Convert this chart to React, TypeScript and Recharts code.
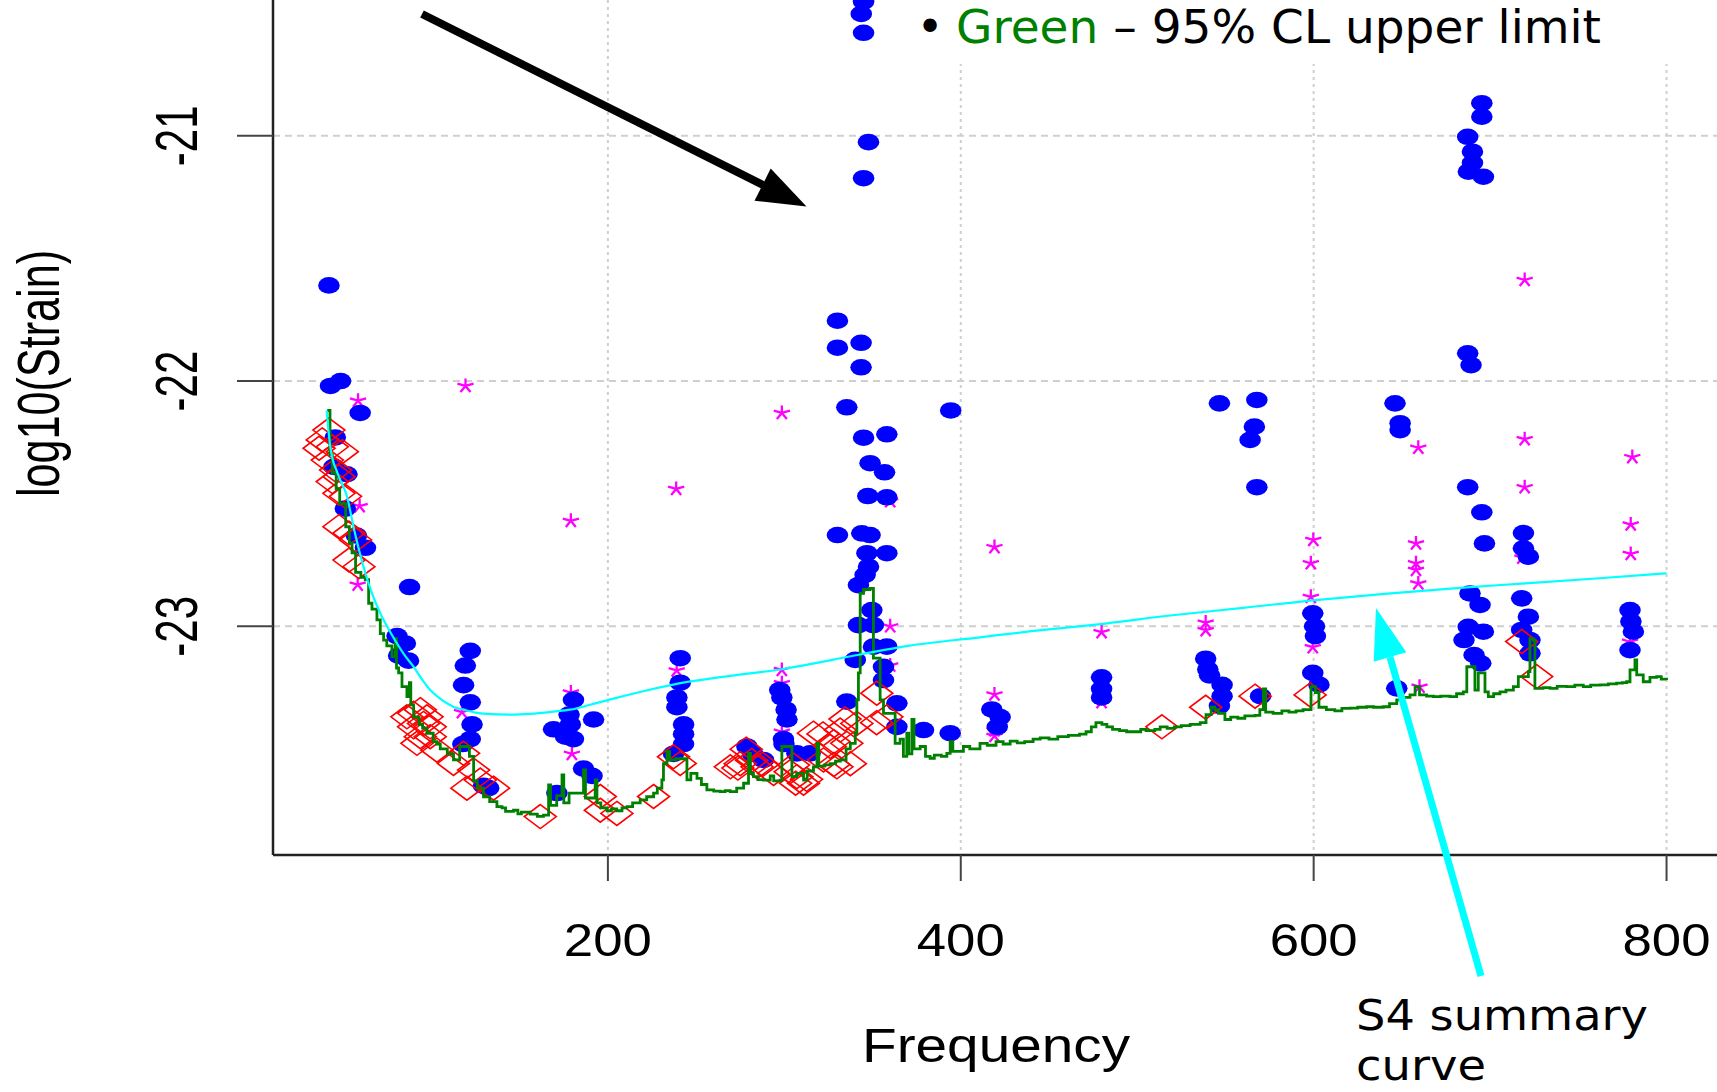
import React from 'react';
import { ComposedChart, Scatter, Line, XAxis, YAxis, CartesianGrid } from 'recharts';

const W = 1717;
const H = 1092;

const xTicks = [200, 400, 600, 800];
const yTicks = [-23, -22, -21];
const X_MIN = 10.2;
const X_MAX = 828.6;
const Y_MIN = -23.9325;
const Y_MAX = -20.4463;

// [frequency, log10(strain)]
const outlierPts: [number, number][] = [
  [41.9, -21.61], [42.8, -22.02], [48.5, -22.0], [59.6, -22.13], [45.5, -22.23], [44.8, -22.35],
  [52.1, -22.38], [51.2, -22.52], [57.5, -22.63], [62.6, -22.68],
  [87.6, -22.84], [80.5, -23.04], [85.2, -23.07], [81.4, -23.12], [87, -23.14],
  [122, -23.1], [119.2, -23.16], [118.2, -23.24], [122, -23.31], [123, -23.4], [122, -23.46],
  [117.8, -23.48], [129.5, -23.65], [132.4, -23.66],
  [180.5, -23.3], [178, -23.36], [169.2, -23.42], [178.7, -23.4], [191.9, -23.38], [180.5, -23.46],
  [176, -23.45], [171.1, -23.68], [186.2, -23.58], [191, -23.61],
  [241, -23.13], [241, -23.23], [239.1, -23.29], [239.1, -23.33], [242.9, -23.4], [242.9, -23.44],
  [242.9, -23.48], [237.2, -23.52],
  [278.8, -23.49], [282, -23.52], [288.2, -23.545], [297.4, -23.26], [298.6, -23.29], [301, -23.34],
  [301.5, -23.38], [299.5, -23.46], [299.8, -23.48], [307.1, -23.518], [314.6, -23.518],
  [344.9, -20.453], [343.6, -20.503], [344.9, -20.58], [347.7, -21.026], [344.9, -21.173],
  [330.1, -21.754], [330.1, -21.864], [343.5, -21.844], [343.5, -21.944], [335.4, -22.107],
  [344.9, -22.231], [358.1, -22.217], [348.6, -22.335], [356.8, -22.372], [347.3, -22.469],
  [358.1, -22.474], [330.1, -22.628], [343.9, -22.621], [348.6, -22.628], [358.1, -22.702],
  [346.8, -22.702], [347.7, -22.757], [345.8, -22.79], [342, -22.832], [349.6, -22.934],
  [342, -22.995], [350.5, -22.995], [358.1, -23.083], [350.5, -23.083], [340.2, -23.137],
  [356.2, -23.165], [356.2, -23.219], [335.4, -23.307], [363.8, -23.314], [363.8, -23.41],
  [378.9, -23.423], [394, -23.436], [394.3, -22.12],
  [417.6, -23.339], [422.3, -23.37], [420.7, -23.41],
  [479.8, -23.208], [479.8, -23.255], [479.8, -23.29],
  [538.8, -23.132], [540, -23.176], [541, -23.2], [548.1, -23.239], [548.1, -23.285], [546.6, -23.324],
  [569.9, -23.285], [546.6, -22.091], [567.8, -22.077], [566.4, -22.186], [564, -22.24], [567.8, -22.433],
  [599.5, -22.947], [600.5, -23.0], [601, -23.04], [599.5, -23.19], [603, -23.238],
  [646.1, -22.091], [649, -22.172], [649, -22.2], [647.1, -23.253],
  [695.3, -20.867], [695.3, -20.922], [687.3, -21.004], [690, -21.065], [690, -21.11], [687.7, -21.146],
  [696.2, -21.167], [687.3, -21.887], [689.2, -21.935], [687.3, -22.433], [695.3, -22.535],
  [696.8, -22.662], [688.6, -22.866], [694.3, -22.913], [687.6, -23.002], [696.2, -23.022],
  [685.2, -23.056], [690.9, -23.117], [694.7, -23.151],
  [718.9, -22.62], [718.9, -22.682], [721.7, -22.716], [717.9, -22.886], [721.7, -22.961],
  [717.9, -23.015], [722.6, -23.056], [722.6, -23.11],
  [779.3, -22.934], [779.8, -22.98], [781.2, -23.022], [779.3, -23.097],
];

const starPts: [number, number][] = [
  [58.4, -22.08], [119.3, -22.02], [59.3, -22.51], [58.2, -22.83], [179, -22.57], [238.7, -22.44],
  [117.3, -23.35], [179, -23.27], [179.6, -23.52], [239, -23.18], [298.6, -22.13], [298.6, -23.178],
  [298.6, -23.232], [298.6, -23.43], [360, -22.49], [360, -23.0], [360, -23.16], [419.1, -22.677],
  [419.1, -23.278], [419.1, -23.424], [419.1, -23.447], [479.8, -23.024], [479.8, -23.309],
  [538.8, -22.985], [538.8, -23.016], [599.8, -22.648], [598.4, -22.743], [598.4, -22.88],
  [599.5, -23.085], [659.3, -22.272], [658, -22.662], [658, -22.743], [658, -22.77], [659.3, -22.825],
  [660, -23.246], [719.6, -21.588], [719.6, -22.237], [719.6, -22.433], [718.3, -22.72],
  [780.6, -22.31], [779.7, -22.585], [779.7, -22.705], [779.3, -23.063],
];

const diamondPts: [number, number][] = [
  [41.9, -22.2], [38.1, -22.24], [36.3, -22.274], [43.8, -22.268], [49.5, -22.288], [41, -22.322],
  [45.7, -22.363], [47.6, -22.39], [43.8, -22.41], [47.6, -22.458], [51.3, -22.47], [47.6, -22.594],
  [53.3, -22.62], [57, -22.648], [53.3, -22.73], [58.9, -22.757],
  [86.1, -23.369], [89.9, -23.355], [93.7, -23.34], [97.5, -23.369], [89.9, -23.41], [95.5, -23.396],
  [99.3, -23.41], [93.7, -23.45], [99.3, -23.45], [91.8, -23.477], [103.1, -23.505], [112.5, -23.559],
  [118.2, -23.518], [123.9, -23.586], [127.7, -23.627], [135.2, -23.66], [120.1, -23.66],
  [161.7, -23.776], [195.7, -23.694], [205.1, -23.763], [195.7, -23.75], [225.9, -23.694],
  [237.2, -23.532], [241, -23.559],
  [269.4, -23.573], [273.7, -23.578], [275, -23.56], [278.4, -23.501], [281.5, -23.547], [284.5, -23.573],
  [287.7, -23.563], [293.9, -23.6], [303.3, -23.593], [305.2, -23.566], [307.1, -23.613], [306.4, -23.64],
  [310.9, -23.64], [312.6, -23.624], [316.5, -23.436], [321.9, -23.439], [322.2, -23.545], [326, -23.49],
  [328.1, -23.47], [328.1, -23.563], [329.8, -23.573], [331.7, -23.423], [334.4, -23.378], [335.4, -23.477],
  [337.4, -23.56], [341.1, -23.396], [352.4, -23.273], [358.1, -23.369], [352.3, -23.393],
  [514, -23.41], [538.8, -23.33], [566.8, -23.285], [598, -23.28], [717.9, -23.062], [726.4, -23.205],
];

// green: 95% CL upper limit
const upperLimit: [number, number][] = [
  [40.9, -22.12], [42.5, -22.3], [43.8, -22.375], [46, -22.44], [48, -22.5], [51.4, -22.594], [53.5, -22.66],
  [55, -22.7], [57, -22.78], [60, -22.8], [62.5, -22.81], [64.4, -22.906], [66.3, -22.93], [69.1, -22.974],
  [71, -23.03], [72.9, -23.056], [74.7, -23.08], [77.6, -23.124], [79.5, -23.05], [80.2, -23.17],
  [81.4, -23.19], [83.3, -23.246], [86.1, -23.287], [87.5, -23.23], [88.3, -23.32], [89.9, -23.37],
  [93, -23.4], [95, -23.415], [97.4, -23.436], [101, -23.47], [103, -23.48], [105, -23.5], [109, -23.52],
  [112.5, -23.545], [116, -23.49], [121.5, -23.53], [123.9, -23.63], [126, -23.66], [129.5, -23.695],
  [133, -23.715], [137.1, -23.735], [140, -23.74], [142, -23.755], [146.5, -23.75], [149, -23.765],
  [151, -23.758], [156, -23.766], [160, -23.775], [163.5, -23.77], [166.4, -23.647], [167.5, -23.73],
  [171, -23.69], [174, -23.606], [175, -23.72], [178, -23.68], [183, -23.68], [186.2, -23.586],
  [187.3, -23.7], [192.8, -23.626], [193.8, -23.72], [196, -23.74], [199.5, -23.752], [202, -23.745],
  [205, -23.752], [208, -23.74], [210.8, -23.735], [214, -23.72], [218.3, -23.708], [222, -23.695],
  [225.9, -23.68], [228, -23.66], [230.6, -23.626], [231.5, -23.56], [233.5, -23.51], [235, -23.545],
  [238.5, -23.54], [242.9, -23.54], [244.8, -23.626], [247, -23.6], [250.5, -23.62], [253, -23.645],
  [256.1, -23.667], [260, -23.672], [263.7, -23.674], [266.5, -23.67], [269.3, -23.674], [273, -23.66],
  [276.9, -23.64], [279.7, -23.518], [280.8, -23.6], [282.5, -23.613], [285, -23.625], [288.2, -23.627],
  [292, -23.61], [294, -23.63], [297.6, -23.627], [298.6, -23.49], [303.3, -23.49], [304.3, -23.613],
  [307, -23.6], [310.9, -23.627], [313, -23.59], [316.5, -23.573], [318.5, -23.477], [319.5, -23.57],
  [323, -23.565], [326, -23.56], [329, -23.55], [331.7, -23.545], [335, -23.5], [337.4, -23.477],
  [340.2, -23.436], [341.1, -23.3], [342, -23.19], [343, -22.866], [344.9, -22.85], [348.6, -22.845],
  [350.5, -23.13], [354.3, -23.3], [356.2, -23.355], [362.8, -23.477], [365.6, -23.46], [367.5, -23.53],
  [369.4, -23.436], [370.5, -23.52], [372.3, -23.38], [373.5, -23.5], [377, -23.49], [380, -23.53],
  [382.6, -23.538], [385, -23.525], [389, -23.53], [392.1, -23.518], [394, -23.47], [395.5, -23.51],
  [401.5, -23.49], [405.1, -23.5], [410.9, -23.477], [415, -23.485], [420, -23.47], [424, -23.48],
  [428, -23.468], [432, -23.475], [436.2, -23.47], [441, -23.46], [445, -23.455], [450, -23.46],
  [455, -23.45], [461, -23.445], [467.3, -23.44], [471, -23.43], [474, -23.41], [476.6, -23.393],
  [480, -23.4], [482.8, -23.41], [486, -23.42], [490, -23.425], [494, -23.43], [498.4, -23.43],
  [502, -23.42], [505, -23.425], [510, -23.42], [513, -23.41], [517, -23.416], [521, -23.41],
  [525, -23.405], [530, -23.4], [535.7, -23.393], [539, -23.36], [541.9, -23.33], [544, -23.34],
  [546, -23.355], [549.7, -23.38], [553, -23.37], [557, -23.375], [561, -23.365], [566.8, -23.363],
  [569.5, -23.34], [571.5, -23.255], [572.8, -23.35], [577, -23.355], [582, -23.345], [586, -23.35],
  [590, -23.345], [594, -23.34], [597.8, -23.34], [598.5, -23.246], [601, -23.27], [603, -23.33],
  [607.2, -23.34], [612, -23.345], [616, -23.335], [620.6, -23.334], [625, -23.33], [630, -23.328],
  [634, -23.33], [639.5, -23.328], [643, -23.315], [647.1, -23.3], [651, -23.29], [654.6, -23.28],
  [657.5, -23.246], [660, -23.28], [664, -23.285], [667.9, -23.287], [672, -23.285], [677.3, -23.287],
  [681, -23.275], [684.8, -23.267], [686.8, -23.165], [690.5, -23.165], [691.4, -23.26], [693.3, -23.19],
  [697.1, -23.267], [699, -23.287], [702, -23.275], [705.6, -23.267], [709, -23.26], [713.2, -23.246],
  [716, -23.205], [721.7, -23.185], [722.6, -23.05], [724.5, -23.056], [725.4, -23.253], [730, -23.25],
  [734, -23.253], [738, -23.245], [743.4, -23.246], [748, -23.24], [752.8, -23.246], [757, -23.24],
  [762.3, -23.239], [767, -23.235], [771.7, -23.232], [775, -23.23], [777.4, -23.226], [779.3, -23.178],
  [782.1, -23.137], [783.1, -23.198], [786.8, -23.226], [790.6, -23.208], [794.4, -23.205],
  [797, -23.215], [800, -23.219],
];

// cyan: S4 summary curve
const s4Curve: [number, number][] = [
  [40.6, -22.12], [42.7, -22.27], [47, -22.38], [52.1, -22.47], [56, -22.6], [61.5, -22.757],
  [66, -22.86], [71, -22.947], [76, -23.015], [80.5, -23.07], [85, -23.12], [89.9, -23.165],
  [95, -23.22], [99.3, -23.26], [104, -23.29], [108.8, -23.314], [113, -23.33], [118.2, -23.34],
  [125, -23.352], [131.5, -23.357], [145, -23.36], [156, -23.357], [169.2, -23.348], [178.7, -23.34],
  [190, -23.32], [200.4, -23.3], [220, -23.265], [241, -23.232], [269.3, -23.202], [298.6, -23.175],
  [343, -23.115], [370, -23.08], [410.9, -23.045], [440, -23.02], [476.6, -22.993], [520, -22.955],
  [560, -22.925], [601, -22.893], [640, -22.868], [684.9, -22.842], [720, -22.825], [760, -22.805],
  [800, -22.784],
];

const rows = (pts: [number, number][]) => pts.map(([f, v]) => ({ f, v }));

const RFONT = '"Liberation Sans", Arial, Helvetica, sans-serif';
const SLIDE_FONT = '"DejaVu Sans", Verdana, sans-serif';

function BlueDot(props: any) {
  const { cx, cy } = props;
  return <ellipse cx={cx} cy={cy} rx={10.8} ry={8.3} fill="#0000ff" />;
}

function RedDiamond(props: any) {
  const { cx, cy } = props;
  return (
    <polygon
      points={`${cx},${cy - 12} ${cx + 16},${cy} ${cx},${cy + 12} ${cx - 16},${cy}`}
      fill="none"
      stroke="#ff0000"
      strokeWidth={1.6}
    />
  );
}

function Asterisk(props: any) {
  const { cx, cy } = props;
  const arms = [90, 18, 162, 234, 306];
  const d = arms
    .map((a) => {
      const r = (a * Math.PI) / 180;
      return `M${cx},${cy} l${(8.5 * Math.cos(r)).toFixed(2)},${(-7.5 * Math.sin(r)).toFixed(2)}`;
    })
    .join(' ');
  return <path d={d} stroke="#ff00ff" strokeWidth={2.3} fill="none" />;
}

function XTick(props: any) {
  const { x, payload } = props;
  return (
    <text
      x={x}
      y={956}
      textAnchor="middle"
      fontFamily={RFONT}
      fontSize={46}
      fill="#000"
      textLength={88}
      lengthAdjust="spacingAndGlyphs"
    >
      {payload.value}
    </text>
  );
}

function YTick(props: any) {
  const { y, payload } = props;
  return (
    <text
      transform={`translate(196.5,${y}) rotate(-90) scale(1,1.4)`}
      textAnchor="middle"
      fontFamily={RFONT}
      fontSize={42}
      fill="#000"
    >
      {payload.value}
    </text>
  );
}

// grid lines only at the tick values (no extra line on the plot edge)
const hGrid = ({ offset }: any) =>
  yTicks.map((t) => offset.top + ((Y_MAX - t) / (Y_MAX - Y_MIN)) * offset.height);
const vGrid = ({ offset }: any) =>
  xTicks.map((t) => offset.left + ((t - X_MIN) / (X_MAX - X_MIN)) * offset.width);

export default function App() {
  return (
    <div
      style={{
        position: 'absolute',
        left: 0,
        top: 0,
        width: W,
        height: H,
        overflow: 'hidden',
        background: '#fff',
      }}
    >
      <ComposedChart width={W} height={H} margin={{ top: 0, right: 0, left: 193, bottom: 177 }}>
        <CartesianGrid
          horizontal={false}
          verticalCoordinatesGenerator={vGrid}
          stroke="#cfcfcf"
          strokeWidth={2}
          strokeDasharray="3 4"
        />
        <CartesianGrid
          vertical={false}
          horizontalCoordinatesGenerator={hGrid}
          stroke="#cfcfcf"
          strokeWidth={2}
          strokeDasharray="7 5"
        />
        <XAxis
          type="number"
          dataKey="f"
          domain={[X_MIN, X_MAX]}
          allowDataOverflow
          ticks={xTicks}
          interval={0}
          height={60}
          tickSize={26}
          axisLine={{ stroke: '#222', strokeWidth: 2.5 }}
          tickLine={{ stroke: '#444', strokeWidth: 2 }}
          tick={(p: any) => <XTick {...p} />}
        />
        <YAxis
          type="number"
          dataKey="v"
          domain={[Y_MIN, Y_MAX]}
          allowDataOverflow
          ticks={yTicks}
          interval={0}
          width={80}
          tickSize={36}
          axisLine={{ stroke: '#222', strokeWidth: 2.5 }}
          tickLine={{ stroke: '#444', strokeWidth: 2 }}
          tick={(p: any) => <YTick {...p} />}
        />
        <Scatter data={rows(starPts)} shape={(p: any) => <Asterisk {...p} />} isAnimationActive={false} zIndex={600} />
        <Scatter data={rows(outlierPts)} shape={(p: any) => <BlueDot {...p} />} isAnimationActive={false} zIndex={610} />
        <Scatter data={rows(diamondPts)} shape={(p: any) => <RedDiamond {...p} />} isAnimationActive={false} zIndex={620} />
        <Line
          data={rows(upperLimit)}
          dataKey="v"
          type="stepAfter"
          stroke="#008000"
          strokeWidth={2.8}
          dot={false}
          activeDot={false}
          isAnimationActive={false}
          zIndex={630}
        />
        <Line
          data={rows(s4Curve)}
          dataKey="v"
          type="monotone"
          stroke="#00ffff"
          strokeWidth={2.2}
          dot={false}
          activeDot={false}
          isAnimationActive={false}
          zIndex={640}
        />
      </ComposedChart>

      <svg
        width={W}
        height={H}
        style={{ position: 'absolute', left: 0, top: 0, pointerEvents: 'none' }}
      >
        {/* axis titles */}
        <text
          transform="translate(58.5,373.5) rotate(-90) scale(1,1.4)"
          textAnchor="middle"
          fontFamily={RFONT}
          fontSize={42}
          fill="#000"
          textLength={247}
          lengthAdjust="spacingAndGlyphs"
        >
          log10(Strain)
        </text>
        <text
          x={862}
          y={1062}
          fontFamily={RFONT}
          fontSize={48}
          fill="#000"
          textLength={268}
          lengthAdjust="spacingAndGlyphs"
        >
          Frequency
        </text>

        {/* slide legend box */}
        <rect x={905} y={0} width={812} height={64} fill="#fff" />
        <text x={930} y={43} textAnchor="middle" fontFamily={SLIDE_FONT} fontSize={46} fill="#000">
          •
        </text>
        <text
          x={956}
          y={43}
          fontFamily={SLIDE_FONT}
          fontSize={46}
          fill="#000"
          textLength={645}
          lengthAdjust="spacingAndGlyphs"
        >
          <tspan fill="#008000">Green</tspan>
          <tspan> – 95% CL upper limit</tspan>
        </text>

        {/* black arrow */}
        <line x1={422} y1={14} x2={763} y2={185} stroke="#000" strokeWidth={8} />
        <polygon points="806.5,206.5 754.5,200.8 770.7,168.6" fill="#000" />

        {/* cyan arrow to the S4 curve */}
        <line x1={1481} y1={976} x2={1390} y2={657} stroke="#00ffff" strokeWidth={7} />
        <polygon points="1376,608 1406.3,652.3 1373.7,661.7" fill="#00ffff" />
        <text
          x={1356}
          y={1030}
          fontFamily={SLIDE_FONT}
          fontSize={42}
          fill="#000"
          textLength={292}
          lengthAdjust="spacingAndGlyphs"
        >
          S4 summary
        </text>
        <text
          x={1356}
          y={1080}
          fontFamily={SLIDE_FONT}
          fontSize={42}
          fill="#000"
          textLength={130}
          lengthAdjust="spacingAndGlyphs"
        >
          curve
        </text>
      </svg>
    </div>
  );
}
